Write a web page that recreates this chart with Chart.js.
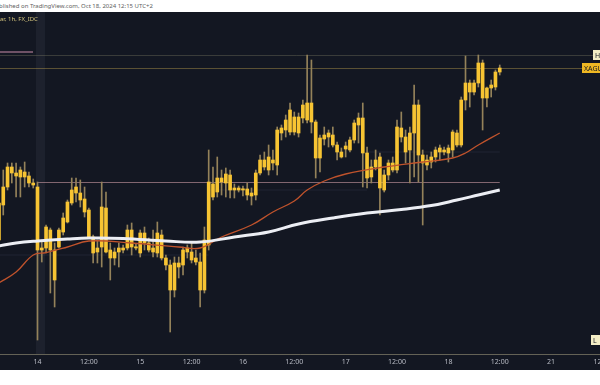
<!DOCTYPE html>
<html>
<head>
<meta charset="utf-8">
<script src="https://cdn.jsdelivr.net/npm/chart.js@4.4.1/dist/chart.umd.min.js"></script>
<style>
  body { margin: 0; width: 600px; height: 385px; background: #fff; overflow: hidden; position: relative; font-family: "Noto Sans", "Open Sans", sans-serif; }
  #pub { position: absolute; left: -1px; top: 0; height: 12px; line-height: 12px; font-size: 6px; color: #606060; white-space: nowrap; }
  #wrap { position: absolute; left: 0; top: 12px; width: 600px; height: 358px; background: #131722; }
  #sym { position: absolute; left: 0; top: 15px; font-size: 6px; color: #d6c67e; white-space: nowrap; z-index: 2; }
  #mark { position: absolute; left: 0; top: 51px; width: 33px; height: 2px; background: #6f5266; z-index: 2; }
</style>
</head>
<body>
<div id="pub">blished on TradingView.com, Oct 18, 2024 12:15 UTC+2</div>
<div id="wrap"><canvas id="chart"></canvas></div>
<div id="sym">ar, 1h, FX_IDC</div>
<div id="mark"></div>
<script>
// XAGUSD 1h, hour offsets from Mon Oct 14 00:00 (first candle = Fri 11 15:00)
const startHour = -9;
const opens = [
  31.100, 31.275, 31.365, 31.465, 31.435, 31.415, 31.440, 31.420, 31.385,
  31.365, 31.050, 31.060, 31.150, 31.050, 31.065, 31.140, 31.190, 31.285, 31.335, 31.335, 31.305,
  31.250, 31.115, 31.040, 31.065, 31.260, 31.050, 31.010, 31.040, 31.050, 31.060, 31.150, 31.065,
  31.035, 31.135, 31.085, 31.040, 31.035, 31.125, 31.010, 30.975, 30.850, 30.985, 30.975, 31.040,
  31.040, 31.010, 30.990, 30.850, 31.075, 31.380, 31.340, 31.410, 31.385, 31.425, 31.350, 31.360,
  31.350, 31.355, 31.335, 31.325, 31.435, 31.500, 31.450, 31.500, 31.475, 31.660, 31.650, 31.640,
  31.715, 31.635, 31.710, 31.700, 31.785, 31.690, 31.510, 31.605, 31.635, 31.625, 31.575, 31.540,
  31.555, 31.550, 31.600, 31.675, 31.710, 31.535, 31.415, 31.465, 31.515, 31.350, 31.425, 31.485,
  31.450, 31.660, 31.615, 31.550, 31.635, 31.775, 31.525, 31.475, 31.490, 31.515, 31.540, 31.550,
  31.535, 31.550, 31.635, 31.575, 31.800, 31.885, 31.840, 31.885, 31.985, 31.810, 31.860, 31.865, 31.940
];
const highs = [
  31.310, 31.450, 31.485, 31.485, 31.485, 31.465, 31.490, 31.440, 31.405,
  31.390, 31.100, 31.175, 31.160, 31.085, 31.160, 31.235, 31.300, 31.410, 31.410, 31.400, 31.365,
  31.260, 31.125, 31.100, 31.390, 31.340, 31.085, 31.060, 31.085, 31.075, 31.175, 31.185, 31.080,
  31.150, 31.165, 31.110, 31.150, 31.190, 31.150, 31.025, 31.000, 31.015, 31.015, 31.065, 31.075,
  31.085, 31.050, 31.035, 31.165, 31.550, 31.465, 31.515, 31.450, 31.460, 31.450, 31.380, 31.370,
  31.370, 31.385, 31.360, 31.450, 31.525, 31.540, 31.575, 31.550, 31.665, 31.675, 31.725, 31.785,
  31.740, 31.735, 31.800, 32.025, 32.000, 31.700, 31.625, 31.665, 31.650, 31.665, 31.590, 31.560,
  31.590, 31.615, 31.700, 31.735, 31.785, 31.565, 31.500, 31.550, 31.535, 31.450, 31.500, 31.515,
  31.700, 31.740, 31.650, 31.665, 31.875, 31.800, 31.550, 31.525, 31.540, 31.565, 31.575, 31.565,
  31.575, 31.650, 31.650, 31.815, 32.020, 31.900, 31.900, 32.025, 32.000, 31.865, 31.900, 31.950, 31.975
];
const lows = [
  31.075, 31.225, 31.350, 31.385, 31.315, 31.315, 31.365, 31.365, 31.360,
  30.600, 30.990, 31.035, 30.835, 30.765, 31.060, 31.125, 31.185, 31.275, 31.290, 31.265, 31.215,
  31.110, 30.985, 30.985, 30.965, 31.035, 30.900, 30.975, 30.965, 31.035, 31.050, 31.025, 31.050,
  31.015, 31.050, 31.040, 31.015, 31.015, 31.000, 30.950, 30.640, 30.815, 30.910, 30.925, 31.010,
  30.985, 30.975, 30.765, 30.835, 31.050, 31.300, 31.315, 31.325, 31.315, 31.310, 31.310, 31.340,
  31.320, 31.300, 31.275, 31.300, 31.425, 31.450, 31.425, 31.450, 31.425, 31.600, 31.615, 31.625,
  31.625, 31.615, 31.685, 31.685, 31.635, 31.410, 31.440, 31.575, 31.565, 31.565, 31.500, 31.510,
  31.515, 31.540, 31.585, 31.585, 31.365, 31.360, 31.385, 31.450, 31.225, 31.340, 31.400, 31.440,
  31.435, 31.590, 31.485, 31.385, 31.415, 31.390, 31.175, 31.450, 31.460, 31.490, 31.500, 31.525,
  31.490, 31.515, 31.565, 31.565, 31.750, 31.765, 31.825, 31.865, 31.650, 31.765, 31.815, 31.850, 31.925
];
const closes = [
  31.285, 31.365, 31.465, 31.435, 31.420, 31.450, 31.415, 31.385, 31.375,
  31.050, 31.060, 31.165, 31.050, 30.900, 31.150, 31.210, 31.290, 31.350, 31.365, 31.300, 31.240,
  31.115, 31.035, 31.060, 31.265, 31.040, 31.010, 31.040, 31.060, 31.060, 31.150, 31.065, 31.060,
  31.135, 31.085, 31.050, 31.060, 31.135, 31.010, 30.975, 30.850, 30.985, 30.965, 31.050, 31.060,
  31.000, 30.990, 30.850, 31.100, 31.390, 31.315, 31.410, 31.390, 31.430, 31.350, 31.360, 31.350,
  31.355, 31.325, 31.320, 31.435, 31.500, 31.465, 31.515, 31.485, 31.650, 31.635, 31.700, 31.750,
  31.640, 31.715, 31.775, 31.785, 31.690, 31.510, 31.610, 31.625, 31.615, 31.575, 31.540, 31.515,
  31.570, 31.600, 31.685, 31.710, 31.535, 31.410, 31.465, 31.500, 31.360, 31.425, 31.485, 31.450,
  31.665, 31.615, 31.540, 31.635, 31.775, 31.525, 31.485, 31.500, 31.515, 31.550, 31.560, 31.540,
  31.560, 31.640, 31.575, 31.800, 31.885, 31.840, 31.885, 31.985, 31.810, 31.860, 31.875, 31.940, 31.960
];
const hours = opens.map((_, k) => startHour + k);

// time axis
const tickHours = [0, 12, 24, 36, 48, 60, 72, 84, 96, 108, 120, 132];
const tickLabels = ['14', '12:00', '15', '12:00', '16', '12:00', '17', '12:00', '18', '12:00', '21', '12:00'];

// moving averages
const ma200Hours = [-9, -5, 0, 7, 12, 20, 30, 38, 46, 54, 61, 69, 77, 85, 92, 98, 103, 108];
const ma200 = [31.070, 31.085, 31.095, 31.105, 31.110, 31.108, 31.095, 31.090, 31.115, 31.140,
  31.180, 31.210, 31.235, 31.252, 31.272, 31.300, 31.325, 31.350];
const ma50Hours = [-9, -5, -1, 2, 7, 12, 22, 33, 38, 43, 50, 55, 60, 63, 67, 72, 81, 90, 97, 100, 103, 108];
const ma50 = [30.885, 30.940, 31.025, 31.037, 31.065, 31.095, 31.085, 31.065, 31.060, 31.115, 31.175,
  31.240, 31.295, 31.350, 31.395, 31.430, 31.465, 31.490, 31.510, 31.535, 31.575, 31.635];

// horizontal levels
const resistance = 31.390;
const resistanceFrom = 0, resistanceTo = 108;
const stepFrom = [-9, 40, 77];
const stepTo = [40, 77, 108];
const stepLevel = [31.025, 31.350, 31.540];

const lastClose = closes[closes.length - 1];
const maxHigh = Math.max(...highs);
const minLow = Math.min(...lows);

const stepPoints = [];
stepLevel.forEach((v, k) => {
  stepPoints.push({ x: stepFrom[k], y: v }, { x: stepTo[k], y: v }, { x: stepTo[k], y: null });
});

function hline(ctx, y, x0, x1, color, w) {
  ctx.strokeStyle = color;
  ctx.lineWidth = w || 1;
  ctx.beginPath();
  ctx.moveTo(x0, Math.round(y) + 0.5);
  ctx.lineTo(x1, Math.round(y) + 0.5);
  ctx.stroke();
}

function tag(ctx, text, x, y, bg, w) {
  ctx.fillStyle = bg;
  ctx.fillRect(x, Math.round(y) - 5, w, 10);
  ctx.fillStyle = '#131722';
  ctx.font = '7px "Noto Sans"';
  ctx.textBaseline = 'middle';
  ctx.textAlign = 'left';
  ctx.fillText(text, x + 2, Math.round(y) + 0.5);
}

const overlay = {
  id: 'overlay',
  beforeDatasetsDraw(chart) {
    const { ctx, chartArea: a, scales: { x, y } } = chart;
    ctx.save();
    // session break highlight
    const b0 = x.getPixelForValue(-0.35), b1 = x.getPixelForValue(1.75);
    ctx.fillStyle = 'rgba(130,140,170,0.09)';
    ctx.fillRect(b0, a.top, b1 - b0, a.bottom - a.top);
    hline(ctx, y.getPixelForValue(maxHigh), a.left, 593, 'rgba(150,145,115,0.30)');
    hline(ctx, y.getPixelForValue(lastClose), a.left, 582, 'rgba(200,170,80,0.40)');
    hline(ctx, y.getPixelForValue(resistance), x.getPixelForValue(resistanceFrom), x.getPixelForValue(resistanceTo),
      'rgba(190,145,155,0.65)');
    ctx.restore();
  },
  afterDraw(chart) {
    const { ctx, scales: { y } } = chart;
    ctx.save();
    tag(ctx, 'H', 593, y.getPixelForValue(maxHigh), '#f4eec6', 12);
    tag(ctx, 'XAGUSD', 582, y.getPixelForValue(lastClose), '#efb823', 30);
    tag(ctx, 'L', 591, y.getPixelForValue(minLow), '#f4eec6', 12);
    ctx.restore();
  }
};

new Chart(document.getElementById('chart'), {
  type: 'bar',
  data: {
    datasets: [
      {
        type: 'line', label: 'levels', data: stepPoints, borderColor: 'rgba(150,155,180,0.11)',
        borderWidth: 1, pointRadius: 0, spanGaps: false, order: 3
      },
      {
        type: 'line', label: 'MA 200', data: ma200Hours.map((h, k) => ({ x: h, y: ma200[k] })),
        borderColor: '#eceef4', borderWidth: 3, pointRadius: 0, tension: 0.4, order: 0
      },
      {
        type: 'line', label: 'MA 50', data: ma50Hours.map((h, k) => ({ x: h, y: ma50[k] })),
        borderColor: '#c0532c', borderWidth: 1.3, pointRadius: 0, tension: 0.4, order: 0
      },
      {
        label: 'wicks', data: hours.map((h, k) => ({ x: h, y: [lows[k], highs[k]] })),
        backgroundColor: '#94825a', barThickness: 1, grouped: false, order: 2
      },
      {
        label: 'bodies', data: hours.map((h, k) => ({ x: h, y: [opens[k], closes[k]] })),
        backgroundColor: '#f7c433', barThickness: 3, minBarLength: 1.2, grouped: false, order: 1
      }
    ]
  },
  options: {
    responsive: true,
    maintainAspectRatio: false,
    animation: false,
    layout: { padding: 0 },
    plugins: { legend: { display: false }, tooltip: { enabled: false } },
    scales: {
      x: {
        type: 'linear', offset: false,
        min: -8.762, max: 131.425,
        grid: { display: false, drawTicks: false },
        border: { display: true, color: 'rgba(200,190,150,0.45)', width: 1 },
        afterBuildTicks: (s) => { s.ticks = tickHours.map(v => ({ value: v })); },
        afterFit: (s) => { s.height = 16; s.paddingLeft = 0; s.paddingRight = 0; },
        ticks: {
          autoSkip: false, maxRotation: 0, padding: 4, color: '#b8bbc4',
          font: { size: 7, family: '"Noto Sans"' },
          callback: (v) => tickLabels[tickHours.indexOf(v)]
        }
      },
      y: { display: false, min: 30.53, max: 32.24 }
    }
  },
  plugins: [overlay]
});
</script>
</body>
</html>
